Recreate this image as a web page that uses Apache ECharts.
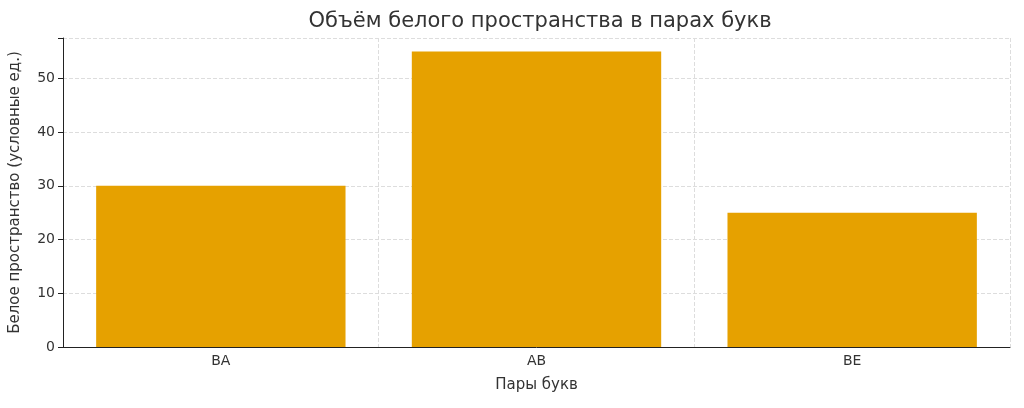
<!DOCTYPE html>
<html><head><meta charset="utf-8">
<script src="https://cdn.jsdelivr.net/npm/echarts@6/dist/echarts.min.js"></script>
<style>html,body{margin:0;background:#fff}#c{width:1024px;height:408px}</style>
</head><body><div id="c"></div>
<script>
var categories = ['BA', 'AB', 'BE'];
var values = [30, 55, 25];
var yTicks = [0, 10, 20, 30, 40, 50];

var chart = echarts.init(document.getElementById('c'));
var font = 'DejaVu Sans';
chart.setOption({
    animation: false,
    title: {
        text: 'Объём белого пространства в парах букв',
        left: 535, top: 6, textAlign: 'center',
        textStyle: {fontFamily: font, fontSize: 21, fontWeight: 'normal', color: '#333'}
    },
    grid: {left: 63, right: 14, top: 38, bottom: 61},
    xAxis: {
        type: 'category', data: categories,
        name: 'Пары букв', nameLocation: 'middle', nameGap: 31,
        nameTextStyle: {fontFamily: font, fontSize: 15, color: '#333'},
        axisLine: {lineStyle: {color: '#222'}},
        axisTick: {alignWithLabel: true, length: 5, lineStyle: {color: '#222'}},
        axisLabel: {fontFamily: font, fontSize: 14, color: '#333', margin: 7},
        splitLine: {show: true, interval: 0, lineStyle: {color: '#ddd', type: 'dashed'}}
    },
    yAxis: {
        type: 'value', min: 0, max: 57.5, interval: 10,
        name: 'Белое пространство (условные ед.)', nameLocation: 'middle', nameGap: 40,
        nameTextStyle: {fontFamily: font, fontSize: 15, color: '#333'},
        axisLine: {show: true, lineStyle: {color: '#222'}},
        axisTick: {show: true, length: 5, lineStyle: {color: '#222'}},
        axisLabel: {fontFamily: font, fontSize: 14, color: '#333',
            formatter: function (v) { return yTicks.indexOf(v) >= 0 ? String(v) : ''; }},
        splitLine: {lineStyle: {color: '#ddd', type: 'dashed'}}
    },
    series: [{
        type: 'bar', data: values, barWidth: '79%',
        itemStyle: {color: '#E6A100'}
    }]
});
</script></body></html>
